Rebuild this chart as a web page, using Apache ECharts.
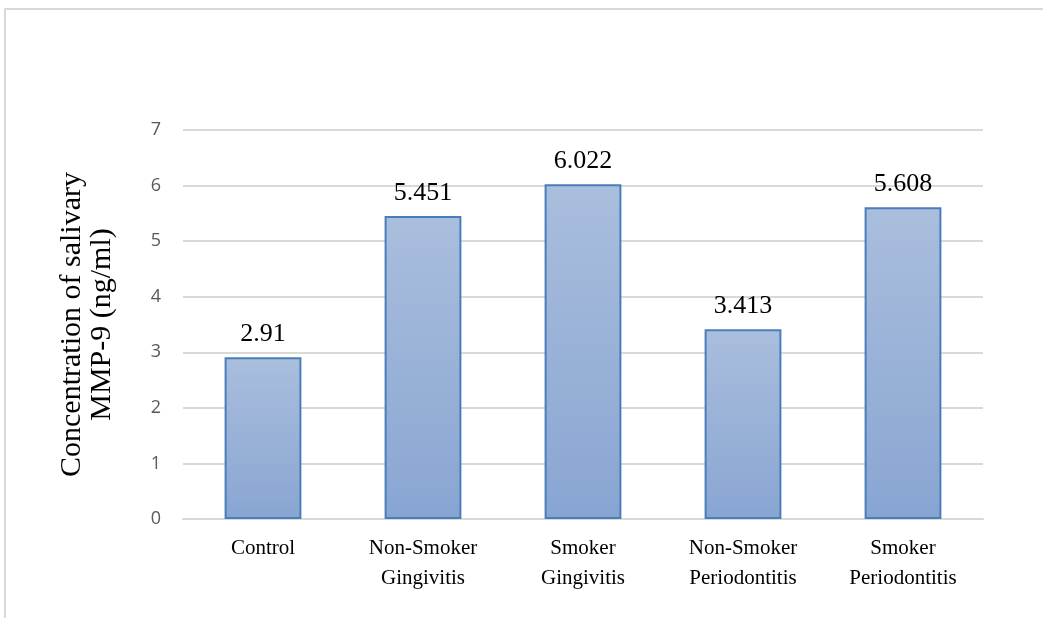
<!DOCTYPE html>
<html>
<head>
<meta charset="utf-8">
<script src="https://cdn.jsdelivr.net/npm/echarts@6/dist/echarts.min.js"></script>
<style>
  html, body { margin: 0; padding: 0; background: #fff; }
  #chart { width: 1043px; height: 618px; }
</style>
</head>
<body>
<div id="chart"></div>
<script>
var categories = ['Control', 'Non-Smoker\nGingivitis', 'Smoker\nGingivitis', 'Non-Smoker\nPeriodontitis', 'Smoker\nPeriodontitis'];
var values = [2.91, 5.451, 6.022, 3.413, 5.608];
var yTicks = [0, 1, 2, 3, 4, 5, 6, 7];

var chart = echarts.init(document.getElementById('chart'));
chart.setOption({
  animation: false,
  grid: { left: 183, right: 60, top: 130, bottom: 99 },
  graphic: [{
    type: 'polyline',
    shape: { points: [[5, 618], [5, 9], [1043, 9]] },
    style: { stroke: '#d9d9d9', lineWidth: 2, fill: null }
  }],
  xAxis: {
    type: 'category',
    data: categories,
    axisLine: { lineStyle: { color: '#d9d9d9', width: 2 } },
    axisTick: { show: false },
    axisLabel: {
      fontFamily: 'Liberation Serif',
      fontSize: 21,
      color: '#000',
      lineHeight: 30,
      margin: 14
    }
  },
  yAxis: {
    type: 'value',
    min: yTicks[0],
    max: yTicks[yTicks.length - 1],
    interval: 1,
    name: 'Concentration of salivary\nMMP-9 (ng/ml)',
    nameLocation: 'middle',
    nameGap: 66,
    nameTextStyle: {
      fontFamily: 'Liberation Serif',
      fontSize: 30,
      color: '#000',
      lineHeight: 30
    },
    axisLine: { show: false },
    axisTick: { show: false },
    axisLabel: {
      fontFamily: 'Open Sans',
      fontSize: 18,
      color: '#595959',
      margin: 22
    },
    splitLine: { lineStyle: { color: '#d9d9d9', width: 2 } }
  },
  series: [{
    type: 'bar',
    data: values,
    barWidth: '48%',
    itemStyle: {
      color: new echarts.graphic.LinearGradient(0, 0, 0, 1, [
        { offset: 0, color: '#aabedd' },
        { offset: 1, color: '#88a5d2' }
      ]),
      borderColor: '#4a7ebb',
      borderWidth: 2
    },
    label: {
      show: true,
      position: 'top',
      distance: 10,
      fontFamily: 'Liberation Serif',
      fontSize: 26,
      color: '#000'
    }
  }]
});
</script>
</body>
</html>
